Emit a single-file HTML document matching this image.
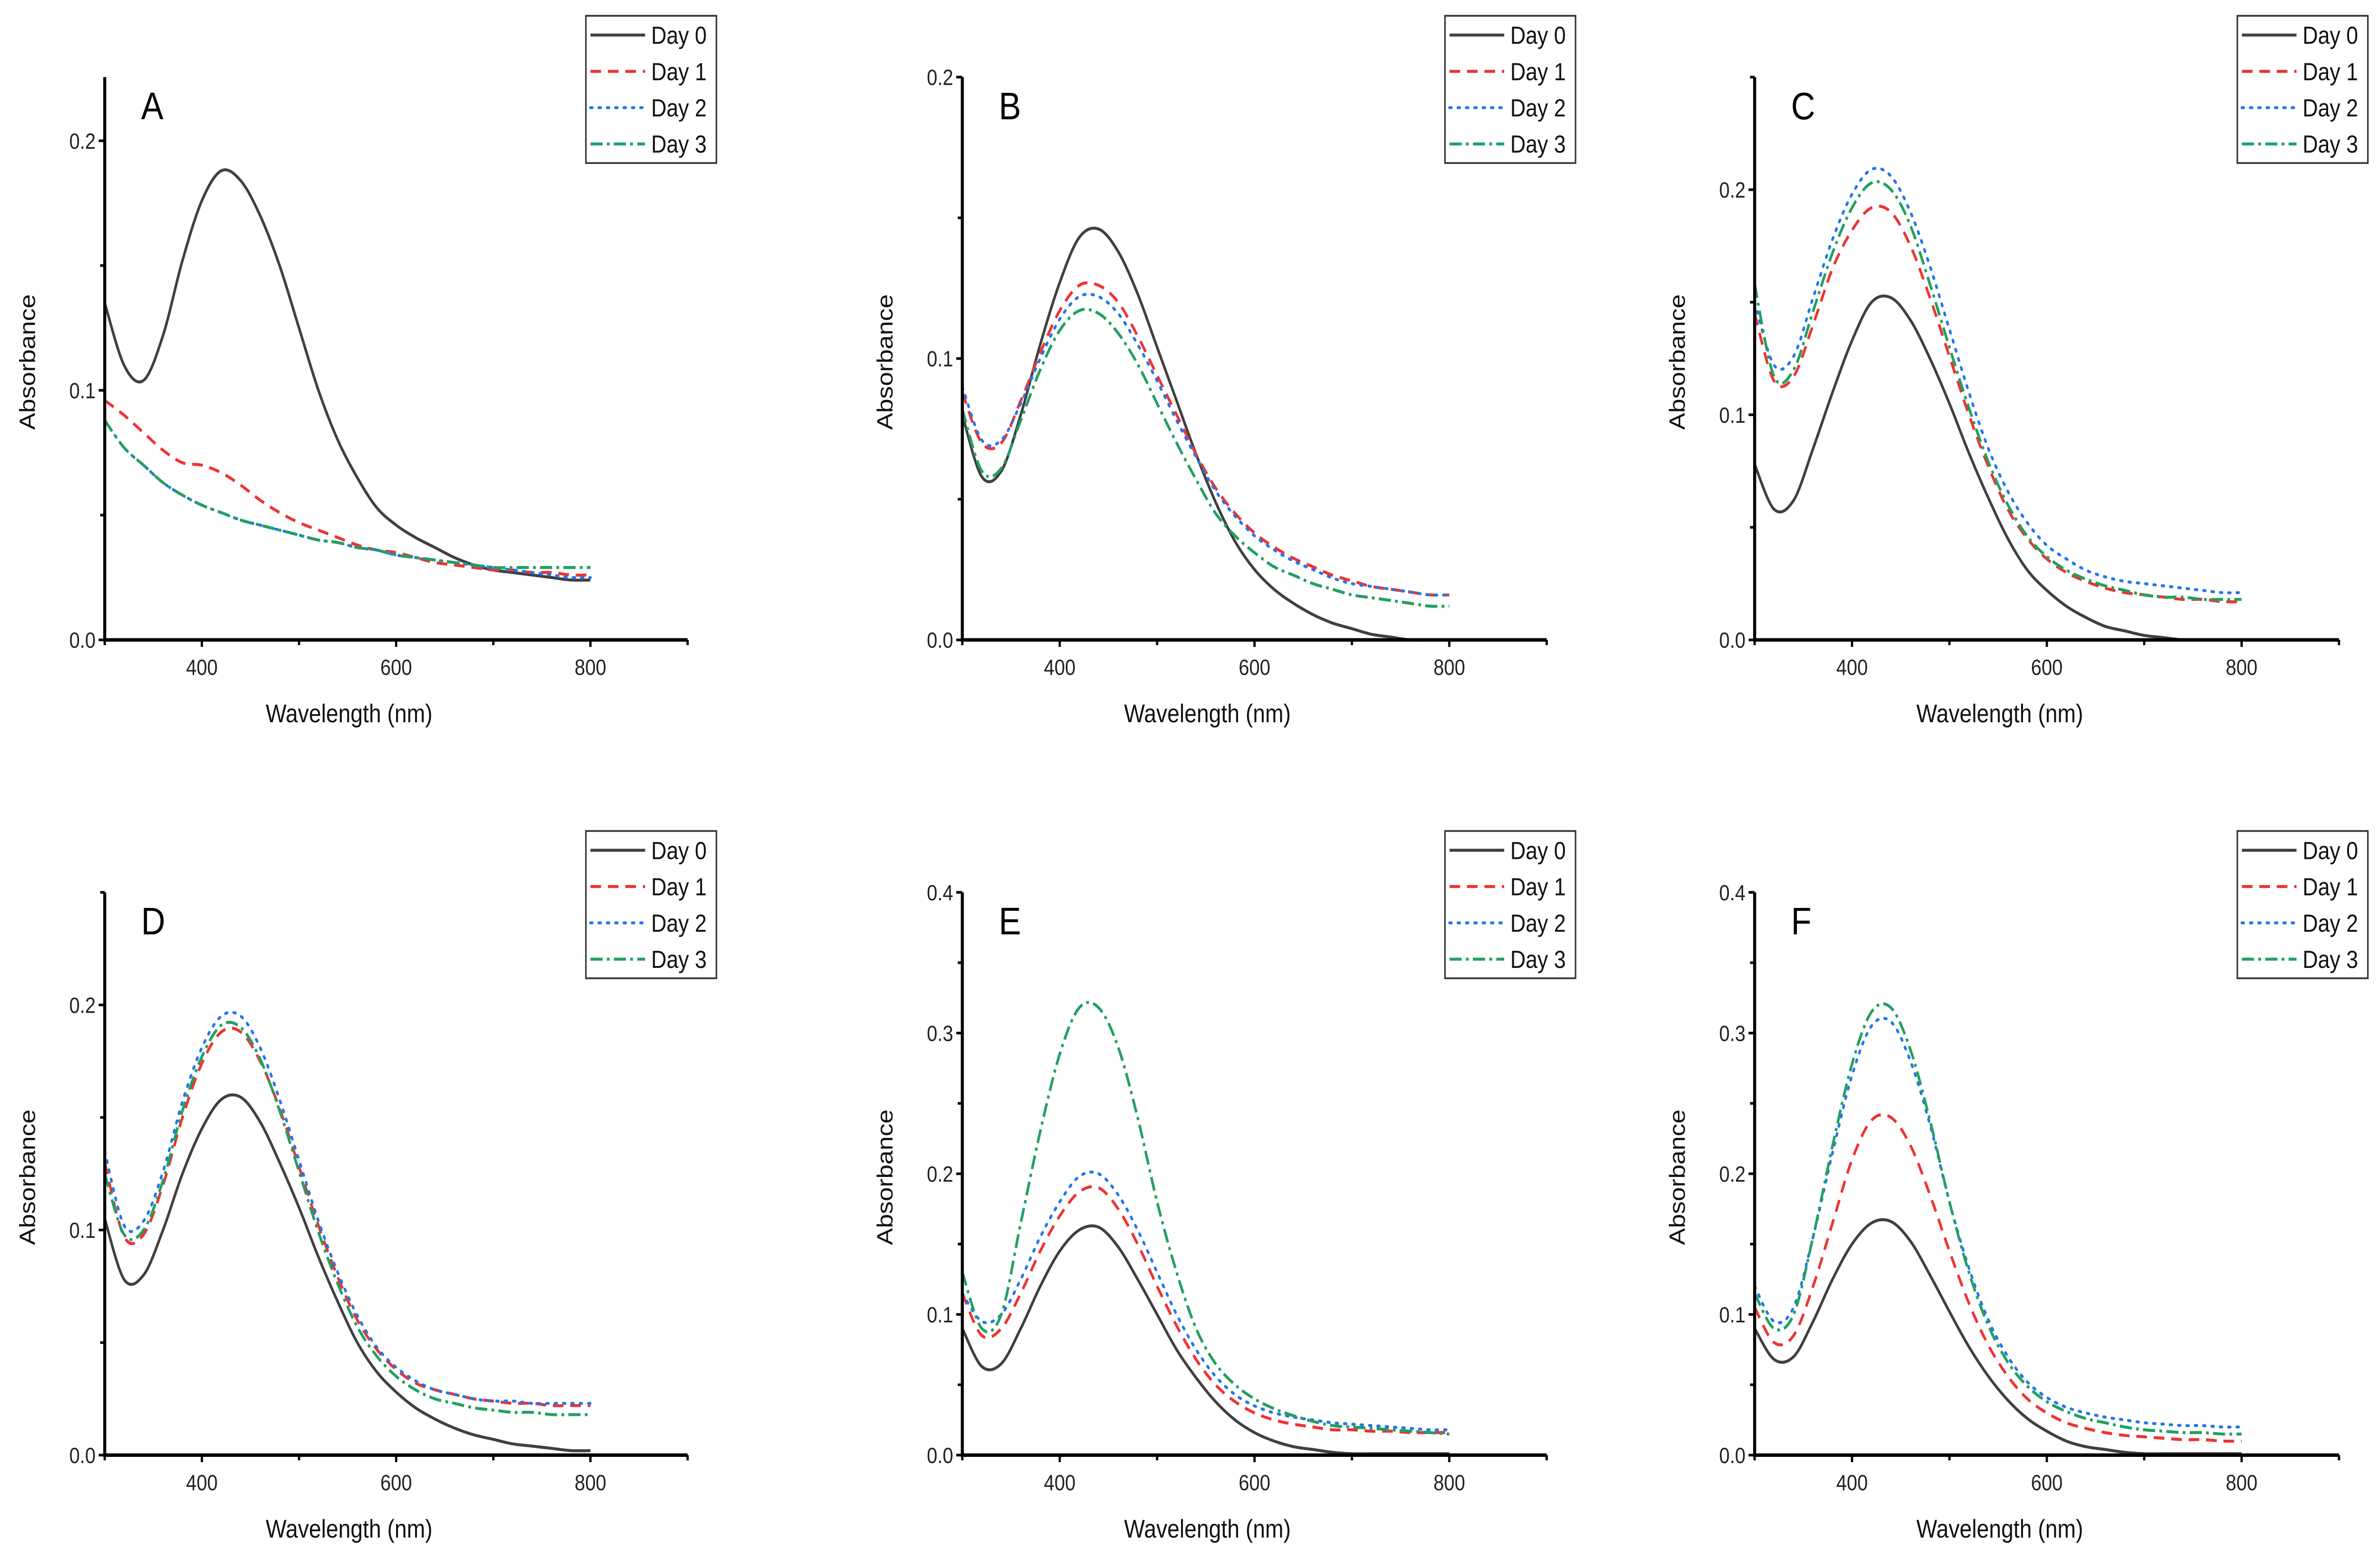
<!DOCTYPE html>
<html><head><meta charset="utf-8">
<meta name="viewport" content="width=5774, initial-scale=1">
<style>
html,body{margin:0;padding:0;background:#fff;width:100vw;height:100vh;overflow:hidden;}
svg{display:block;position:absolute;left:0;top:0;width:100vw;height:100vh;}
text{font-family:"Liberation Sans",Arial,sans-serif;}
</style></head>
<body>
<svg id="fig" viewBox="0 0 1568 886.4" preserveAspectRatio="none" xmlns="http://www.w3.org/2000/svg"><g id="root"></g></svg>
<script>
const wavelengths=[300,320,340,360,380,400,420,440,460,480,500,520,540,560,580,600,620,640,660,680,700,720,740,760,780,800];
const seriesNames=["Day 0","Day 1","Day 2","Day 3"];
const panelLabels=["A","B","C","D","E","F"];
const yTickLabelsA=["0.0","0.1","0.2"];
const yTickLabelsE=["0.0","0.1","0.2","0.3","0.4"];
const xTickLabels=["400","600","800"];

const A0=[0.135,0.110,0.104,0.122,0.152,0.176,0.188,0.184,0.170,0.150,0.125,0.100,0.080,0.065,0.053,0.046,0.041,0.037,0.033,0.030,0.028,0.027,0.026,0.025,0.024,0.024];
const A1=[0.096,0.090,0.083,0.076,0.071,0.070,0.067,0.062,0.056,0.051,0.047,0.044,0.041,0.038,0.036,0.035,0.033,0.031,0.030,0.029,0.028,0.028,0.027,0.027,0.026,0.026];
const A2=[0.088,0.077,0.070,0.063,0.058,0.054,0.051,0.048,0.046,0.044,0.042,0.040,0.039,0.037,0.036,0.034,0.033,0.032,0.031,0.030,0.029,0.028,0.027,0.026,0.025,0.025];
const A3=[0.088,0.077,0.070,0.063,0.058,0.054,0.051,0.048,0.046,0.044,0.042,0.040,0.039,0.037,0.036,0.034,0.033,0.032,0.031,0.030,0.029,0.029,0.029,0.029,0.029,0.029];

const B0=[0.080,0.058,0.060,0.080,0.105,0.127,0.143,0.146,0.138,0.123,0.104,0.085,0.066,0.049,0.035,0.025,0.018,0.013,0.009,0.006,0.004,0.002,0.001,0.000,0.000,0.000];
const B1=[0.088,0.070,0.070,0.085,0.102,0.117,0.126,0.126,0.120,0.108,0.094,0.080,0.066,0.054,0.045,0.038,0.033,0.029,0.026,0.023,0.021,0.019,0.018,0.017,0.016,0.016];
const B2=[0.090,0.071,0.071,0.084,0.100,0.114,0.122,0.122,0.116,0.105,0.092,0.078,0.065,0.053,0.044,0.037,0.032,0.028,0.025,0.022,0.020,0.019,0.018,0.017,0.016,0.016];
const B3=[0.082,0.060,0.061,0.078,0.096,0.110,0.117,0.116,0.109,0.098,0.084,0.070,0.057,0.045,0.037,0.031,0.026,0.023,0.020,0.018,0.016,0.015,0.014,0.013,0.012,0.012];

const C0=[0.078,0.058,0.062,0.085,0.110,0.133,0.150,0.152,0.142,0.125,0.105,0.083,0.063,0.045,0.031,0.022,0.015,0.010,0.006,0.004,0.002,0.001,0.000,0.000,0.000,0.000];
const C1=[0.145,0.115,0.117,0.140,0.165,0.182,0.192,0.190,0.175,0.152,0.126,0.100,0.077,0.058,0.045,0.036,0.030,0.026,0.023,0.021,0.020,0.019,0.018,0.018,0.017,0.017];
const C2=[0.150,0.122,0.126,0.152,0.178,0.198,0.209,0.206,0.190,0.166,0.138,0.110,0.085,0.066,0.052,0.042,0.036,0.031,0.028,0.026,0.025,0.024,0.023,0.022,0.021,0.021];
const C3=[0.158,0.117,0.120,0.146,0.172,0.192,0.203,0.200,0.184,0.158,0.130,0.103,0.079,0.060,0.046,0.037,0.031,0.027,0.024,0.022,0.020,0.019,0.019,0.018,0.018,0.018];

const D0=[0.105,0.078,0.080,0.100,0.125,0.145,0.158,0.159,0.148,0.130,0.110,0.088,0.068,0.050,0.037,0.028,0.021,0.016,0.012,0.009,0.007,0.005,0.004,0.003,0.002,0.002];
const D1=[0.130,0.097,0.098,0.120,0.150,0.174,0.188,0.188,0.175,0.154,0.128,0.102,0.079,0.060,0.047,0.038,0.032,0.029,0.027,0.025,0.024,0.023,0.023,0.022,0.022,0.022];
const D2=[0.135,0.102,0.104,0.126,0.157,0.181,0.195,0.195,0.181,0.158,0.131,0.104,0.081,0.062,0.048,0.039,0.033,0.029,0.027,0.025,0.024,0.024,0.023,0.023,0.023,0.023];
const D3=[0.125,0.098,0.100,0.122,0.153,0.177,0.191,0.190,0.176,0.153,0.126,0.099,0.076,0.057,0.044,0.035,0.029,0.025,0.023,0.021,0.020,0.019,0.019,0.018,0.018,0.018];

const E0=[0.090,0.063,0.065,0.090,0.120,0.145,0.160,0.162,0.148,0.125,0.100,0.075,0.055,0.038,0.025,0.016,0.010,0.006,0.004,0.002,0.001,0.001,0.001,0.001,0.001,0.001];
const E1=[0.115,0.085,0.090,0.115,0.145,0.170,0.187,0.190,0.175,0.150,0.120,0.092,0.068,0.050,0.038,0.030,0.025,0.022,0.020,0.018,0.018,0.017,0.017,0.016,0.016,0.016];
const E2=[0.115,0.095,0.100,0.125,0.155,0.180,0.198,0.200,0.185,0.160,0.130,0.100,0.075,0.056,0.043,0.035,0.030,0.027,0.025,0.023,0.022,0.021,0.020,0.019,0.018,0.018];
const E3=[0.130,0.090,0.100,0.165,0.230,0.285,0.318,0.318,0.290,0.240,0.180,0.130,0.090,0.065,0.050,0.040,0.033,0.028,0.024,0.021,0.020,0.019,0.018,0.017,0.016,0.015];

const F0=[0.090,0.068,0.070,0.095,0.125,0.150,0.165,0.166,0.152,0.128,0.102,0.077,0.056,0.039,0.026,0.017,0.010,0.006,0.004,0.002,0.001,0.001,0.001,0.001,0.001,0.001];
const F1=[0.105,0.080,0.085,0.120,0.165,0.210,0.238,0.240,0.220,0.185,0.145,0.108,0.078,0.056,0.040,0.030,0.023,0.019,0.016,0.014,0.013,0.012,0.011,0.011,0.010,0.010];
const F2=[0.120,0.095,0.105,0.155,0.215,0.270,0.305,0.308,0.280,0.235,0.180,0.133,0.096,0.070,0.052,0.041,0.034,0.030,0.027,0.025,0.023,0.022,0.021,0.021,0.020,0.020];
const F3=[0.115,0.090,0.100,0.155,0.220,0.278,0.315,0.318,0.288,0.238,0.180,0.130,0.092,0.066,0.049,0.038,0.031,0.026,0.023,0.020,0.018,0.017,0.016,0.016,0.015,0.015];

const panelSeries=[[A0,A1,A2,A3],[B0,B1,B2,B3],[C0,C1,C2,C3],[D0,D1,D2,D3],[E0,E1,E2,E3],[F0,F1,F2,F3]];
const panelYMax=[0.2255,0.2,0.25,0.25,0.4,0.4];

const NS="http://www.w3.org/2000/svg";
const root=document.getElementById('root');
function el(tag,attrs,parent){const e=document.createElementNS(NS,tag);for(const k in attrs)e.setAttribute(k,attrs[k]);(parent||root).appendChild(e);return e;}

const colors=["#404040","#ee3333","#2277ee","#22a060"];
const dashes=["none","7,4.5","1.2,4.3","8,2.8,1.8,2.8"];
const caps=["butt","butt","round","butt"];
const colX=[[69,453],[634,1019],[1156,1541]];
const rowY=[[44,365],[509,830]];
const legendX=[386,952,1474];
const rowLegendY=[9,474];

panelSeries.forEach((series,p)=>{
  const col=p%3,row=Math.floor(p/3);
  const [x0,x1]=colX[col],[yt,yb]=rowY[row];
  const ymax=panelYMax[p];
  const xs=v=>x0+(v-300)/600*(x1-x0);
  const ys=v=>yb-v/ymax*(yb-yt);
  const g=el('g',{});
  
  
  series.forEach((vals,s)=>{
    const pts=vals.map((v,i)=>[xs(wavelengths[i]),ys(v)]);
    let d='M'+pts[0][0].toFixed(2)+','+pts[0][1].toFixed(2);
    for(let i=0;i<pts.length-1;i++){
      const p0=pts[Math.max(0,i-1)],p1=pts[i],p2=pts[i+1],p3=pts[Math.min(pts.length-1,i+2)];
      const c1=[p1[0]+(p2[0]-p0[0])/6,p1[1]+(p2[1]-p0[1])/6];
      const c2=[p2[0]-(p3[0]-p1[0])/6,p2[1]-(p3[1]-p1[1])/6];
      d+=' C'+c1[0].toFixed(2)+','+c1[1].toFixed(2)+' '+c2[0].toFixed(2)+','+c2[1].toFixed(2)+' '+p2[0].toFixed(2)+','+p2[1].toFixed(2);
    }
    const path=el('path',{d:d,fill:'none',stroke:colors[s],'stroke-width':1.7,'stroke-dasharray':dashes[s],'stroke-linecap':caps[s]},g);
    
    
  });
  const ax=el('path',{d:`M${x0},${yt} L${x0},${yb} L${x1},${yb}`,fill:'none',stroke:'#000','stroke-width':2},g);
  
  
  [300,400,500,600,700,800,900].forEach(v=>{
    const major=(v%200===0);
    el('line',{x1:xs(v),x2:xs(v),y1:yb,y2:yb+(major?4:3),stroke:'#000','stroke-width':1.5},g);
  });
  xTickLabels.forEach(lbl=>{
    const t=el('text',{x:xs(+lbl),y:yb+20,'font-size':12.5,'text-anchor':'middle',fill:'#222'},g);
    t.textContent=lbl;
    
    
  });
  const yl=ymax>0.3?yTickLabelsE:yTickLabelsA;
  const step=0.1;
  for(let v=0;v<=ymax+1e-9;v+=step/2){
    const major=Math.abs(Math.round(v/step)*step-v)<1e-9;
    el('line',{x1:x0-(major?4:3),x2:x0,y1:ys(v),y2:ys(v),stroke:'#000','stroke-width':1.5},g);
  }
  yl.forEach(lbl=>{
    const v=+lbl; if(v>ymax+1e-9)return;
    const t=el('text',{x:x0-6,y:ys(v)+4.5,'font-size':12.5,'text-anchor':'end',fill:'#222'},g);
    t.textContent=lbl;
    
    
  });
  const xt=el('text',{x:(x0+x1)/2-31,y:yb+47,'font-size':14.5,'text-anchor':'middle',fill:'#111'},g);
  xt.textContent='Wavelength (nm)';
  
  
  const ytx=x0-46, yty=(yt+yb)/2+2;
  const yt2=el('text',{x:ytx,y:yty,'font-size':14.5,'text-anchor':'middle',fill:'#111',transform:`rotate(-90 ${ytx} ${yty})`},g);
  yt2.textContent='Absorbance';
  
  
  const pl=el('text',{x:x0+24,y:yt+24,'font-size':22,fill:'#000'},g);
  pl.textContent=panelLabels[p];
  
  
  const lx=legendX[col], ly=rowLegendY[row];
  const lg=el('g',{},g);
  
  
  el('rect',{x:lx,y:ly,width:86,height:84,fill:'#fff',stroke:'#333','stroke-width':1},lg);
  seriesNames.forEach((n,s)=>{
    const cy=ly+11+s*20.7;
    el('line',{x1:lx+3,x2:lx+39,y1:cy,y2:cy,stroke:colors[s],'stroke-width':1.7,'stroke-dasharray':dashes[s],'stroke-linecap':caps[s]},lg);
    const t=el('text',{x:lx+43,y:cy+5,'font-size':14,fill:'#111'},lg);
    t.textContent=n;
    
    
  });
});
</script>
</body></html>
